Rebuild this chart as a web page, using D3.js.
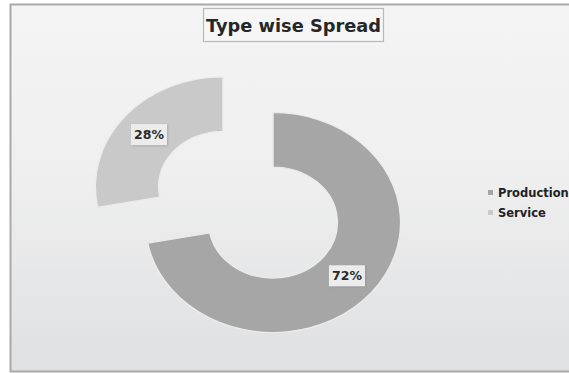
<!DOCTYPE html>
<html>
<head>
<meta charset="utf-8">
<script src="https://cdn.jsdelivr.net/npm/d3@7"></script>
<style>
  html, body { margin: 0; padding: 0; background: #ffffff; overflow: hidden; }
  svg { display: block; }
</style>
</head>
<body>
<svg id="chart" width="569" height="373"></svg>
<script>
// Chart data
const categories = ["Production", "Service"];
const values = [72, 28];
const sliceColors = ["#a6a6a6", "#c9c9c9"];
const chartTitle = "Type wise Spread";

const svg = d3.select("#chart");
const W = 569, H = 373;

// Background panel with vertical gradient
const defs = svg.append("defs");
const bg = defs.append("linearGradient").attr("id", "bgGrad")
  .attr("x1", 0).attr("y1", 0).attr("x2", 0).attr("y2", 1);
bg.append("stop").attr("offset", "0%").attr("stop-color", "#f4f4f4");
bg.append("stop").attr("offset", "45%").attr("stop-color", "#efefef");
bg.append("stop").attr("offset", "100%").attr("stop-color", "#dfe0e2");

const shadow = defs.append("filter").attr("id", "lblShadow")
  .attr("x", "-20%").attr("y", "-20%").attr("width", "150%").attr("height", "160%");
shadow.append("feDropShadow").attr("dx", 1).attr("dy", 1).attr("stdDeviation", 0.8)
  .attr("flood-color", "#888").attr("flood-opacity", 0.5);

svg.append("rect")
  .attr("x", 10.5).attr("y", 4.5)
  .attr("width", W + 10).attr("height", 367)
  .attr("fill", "url(#bgGrad)")
  .attr("stroke", "#a9a9a9").attr("stroke-width", 2);

// Title box
const titleG = svg.append("g");
titleG.append("rect")
  .attr("x", 203.5).attr("y", 8.5).attr("width", 180).attr("height", 33)
  .attr("fill", "#f6f6f6").attr("stroke", "#b9b9b9").attr("stroke-width", 1.2);
titleG.append("text")
  .attr("x", 293.5).attr("y", 31.5)
  .attr("text-anchor", "middle")
  .attr("font-family", "DejaVu Sans, Verdana, sans-serif")
  .attr("font-weight", "bold").attr("font-size", 18)
  .attr("fill", "#262626")
  .attr("textLength", 175).attr("lengthAdjust", "spacingAndGlyphs")
  .text(chartTitle);

// Donut
const cx = 273, cy = 222.5;
const xStretch = 1.16;
const rOuter = 110, rInner = 55.5;
const explodeDist = [0, 56];

const pie = d3.pie().sort(null).value(d => d)(values);
const arc = d3.arc().innerRadius(rInner).outerRadius(rOuter);

const slices = svg.append("g");
pie.forEach((p, i) => {
  const mid = (p.startAngle + p.endAngle) / 2;
  const dx = Math.sin(mid) * explodeDist[i];
  const dy = -Math.cos(mid) * explodeDist[i];
  slices.append("path")
    .attr("transform", `translate(${cx + dx * xStretch},${cy + dy}) scale(${xStretch},1)`)
    .attr("d", arc(p))
    .attr("fill", sliceColors[i])
    .attr("stroke", "#ececec").attr("stroke-width", 1.2);
});

// Value labels at slice centroids
pie.forEach((p, i) => {
  const mid = (p.startAngle + p.endAngle) / 2;
  const dx = Math.sin(mid) * explodeDist[i];
  const dy = -Math.cos(mid) * explodeDist[i];
  const c = arc.centroid(p);
  const lx = cx + (c[0] + dx) * xStretch;
  const ly = cy + c[1] + dy;
  const g = svg.append("g").attr("transform", `translate(${lx},${ly})`);
  g.append("rect")
    .attr("x", -18).attr("y", -10).attr("width", 36).attr("height", 21)
    .attr("fill", "#ececec").attr("filter", "url(#lblShadow)");
  g.append("text")
    .attr("x", 0).attr("y", 5)
    .attr("text-anchor", "middle")
    .attr("font-family", "DejaVu Sans, Verdana, sans-serif")
    .attr("font-weight", "bold").attr("font-size", 12.5)
    .attr("fill", "#2a2a2a")
    .text(Math.round(values[i]) + "%");
});

// Legend
const legend = svg.append("g");
categories.forEach((name, i) => {
  const y = 193 + i * 20;
  legend.append("rect")
    .attr("x", 488).attr("y", y - 3).attr("width", 5).attr("height", 5)
    .attr("fill", sliceColors[i]);
  legend.append("text")
    .attr("x", 498).attr("y", y + 4)
    .attr("font-family", "DejaVu Sans, Verdana, sans-serif")
    .attr("font-weight", "bold").attr("font-size", 11.5)
    .attr("fill", "#222")
    .text(name);
});
</script>
</body>
</html>
